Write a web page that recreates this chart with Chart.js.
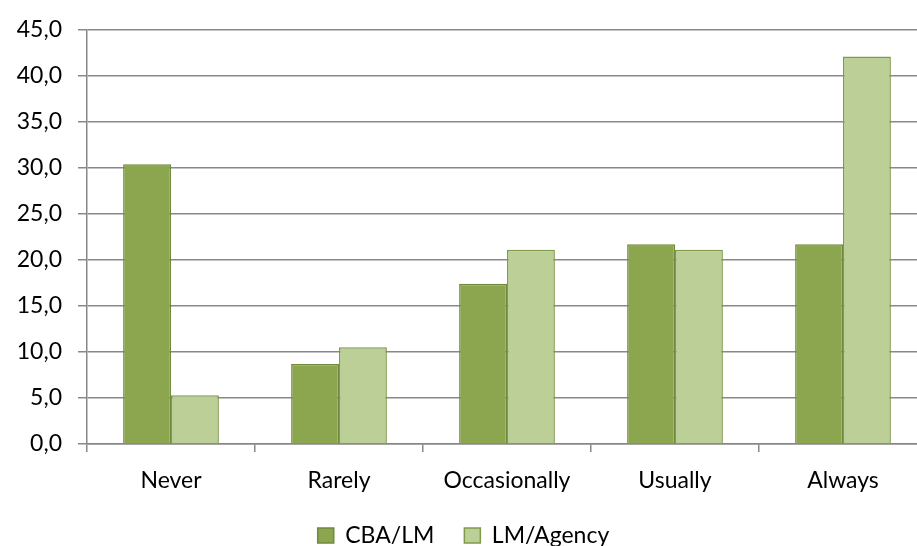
<!DOCTYPE html>
<html>
<head>
<meta charset="utf-8">
<script src="https://cdn.jsdelivr.net/npm/chart.js@4/dist/chart.umd.min.js"></script>
<style>
  html, body { margin: 0; padding: 0; background: #fff; overflow: hidden; }
  #wrap { width: 930px; height: 546px; position: relative; }
</style>
</head>
<body>
<div id="wrap"><canvas id="grafico"></canvas></div>
<script>
const categorias = ['Never', 'Rarely', 'Occasionally', 'Usually', 'Always'];
const cbaLm = [30.4, 8.7, 17.4, 21.7, 21.7];
const lmAgency = [5.3, 10.5, 21.1, 21.1, 42.1];
const yTicks = [0, 5, 10, 15, 20, 25, 30, 35, 40, 45];

const fuente = "Lato, 'Open Sans', sans-serif";
const gris = '#888888';

const ctx = document.getElementById('grafico').getContext('2d');
new Chart(ctx, {
    type: 'bar',
    data: {
        labels: categorias,
        datasets: [
            {
                label: 'CBA/LM',
                data: cbaLm,
                backgroundColor: '#8ba64f',
                borderColor: '#71893d',
                borderWidth: 1.5
            },
            {
                label: 'LM/Agency',
                data: lmAgency,
                backgroundColor: '#bbcf96',
                borderColor: '#7f9a48',
                borderWidth: 1.5
            }
        ]
    },
    options: {
        responsive: true,
        maintainAspectRatio: false,
        animation: false,
        layout: { padding: { top: 29, right: 3, bottom: -11, left: 0 } },
        datasets: { bar: { categoryPercentage: 0.57, barPercentage: 1.0 } },
        scales: {
            x: {
                afterFit: function(s) { s.height = 50; },
                grid: {
                    offset: true,
                    drawOnChartArea: false,
                    color: gris,
                    lineWidth: 1.5,
                    tickLength: 8
                },
                border: { color: gris, width: 1.5 },
                ticks: { color: '#000', font: { family: fuente, size: 23 }, padding: 15 }
            },
            y: {
                min: 0,
                max: 45,
                afterBuildTicks: function(axis) {
                    axis.ticks = yTicks.map(v => ({ value: v }));
                },
                afterFit: function(s) { s.width = 87; },
                grid: { color: gris, lineWidth: 1.5, tickLength: 9 },
                border: { color: gris, width: 1.5 },
                ticks: {
                    color: '#000',
                    font: { family: fuente, size: 23 },
                    padding: 16,
                    callback: v => v.toFixed(1).replace('.', ',')
                }
            }
        },
        plugins: {
            tooltip: { enabled: false },
            legend: {
                position: 'bottom',
                labels: {
                    color: '#000',
                    font: { family: fuente, size: 23 },
                    boxWidth: 16,
                    boxHeight: 15,
                    padding: 30
                }
            }
        }
    }
});
</script>
</body>
</html>
